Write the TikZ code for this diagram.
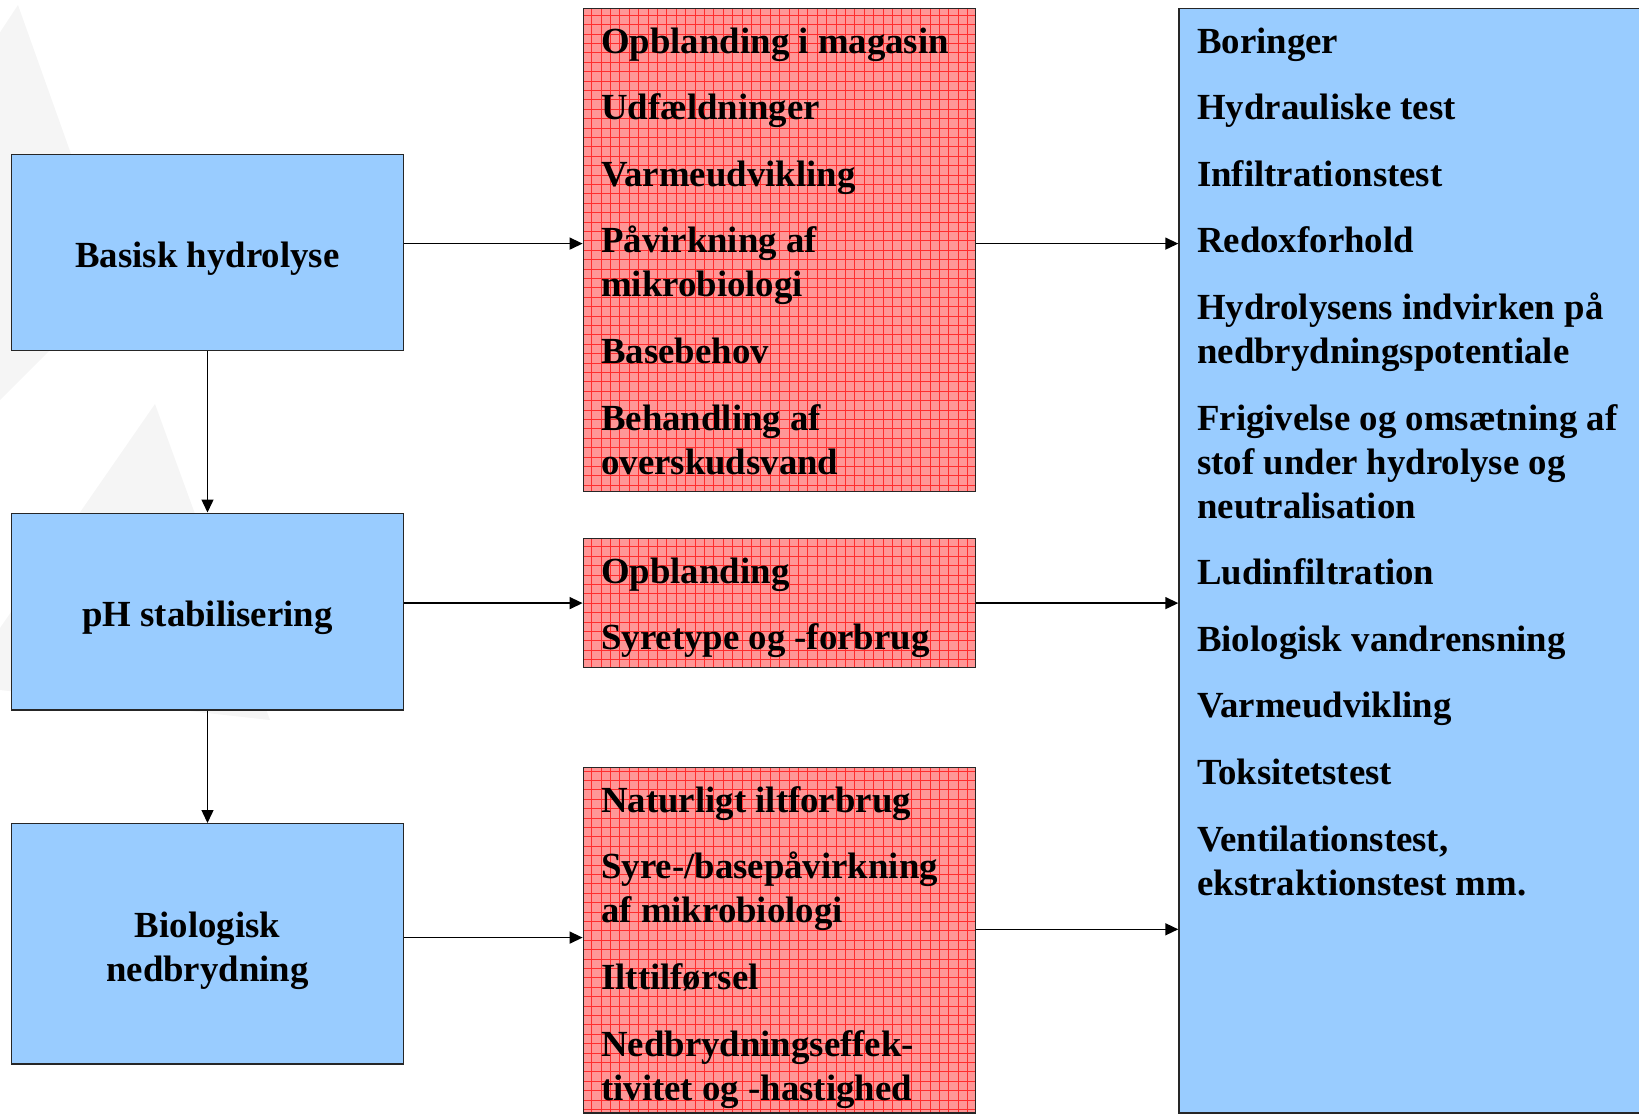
\documentclass[tikz,border=0pt]{standalone}
\usepackage{fontspec}
\setmainfont{Liberation Serif}
\usetikzlibrary{arrows.meta}
\definecolor{boxblue}{HTML}{99CCFF}
\definecolor{boxpink}{RGB}{255,150,150}
\definecolor{gridred}{RGB}{255,45,45}
\definecolor{wm}{gray}{0.96}
\begin{document}
\begin{tikzpicture}[x=1pt,y=-1pt,
  bluebox/.style={draw=black!85, line width=1.4pt, fill=boxblue, inner sep=0pt, minimum width=392pt},
  lbl/.style={font=\fontsize{36.8}{44}\selectfont\bfseries, align=center, inner sep=0pt},
  redbox/.style={draw=black!85, line width=1.4pt, fill=boxpink, inner sep=0pt, minimum width=392pt,
    path picture={\draw[gridred, line width=0.35pt] (path picture bounding box.south west) grid[step=9.4pt] (path picture bounding box.north east);}},
  listbox/.style={draw=black!85, line width=1.4pt, fill=boxblue, inner sep=0pt},
  item/.style={font=\fontsize{36.8}{44}\selectfont\bfseries, anchor=base west, inner sep=0pt},
  arr/.style={line width=1.4pt, -{Triangle[length=13pt,width=12pt]}}]
\clip (0,0) rectangle (1639,1114);
% faint background shapes
\fill[wm] (18,5) -- (117,283) -- (0,400) -- (-5,400) -- (-5,40) -- cycle;
\fill[wm] (155,404) -- (270,720) -- (0,690) -- (0,628) -- cycle;
% left column
\node[bluebox, minimum height=195.5pt] (b1) at (207.5,252.45) {};
\node[bluebox, minimum height=196.6pt] (b2) at (207.5,611.5) {};
\node[bluebox, minimum height=240.4pt] (b3) at (207.5,943.9) {};
\node[lbl] (b1t) at ([yshift=-6pt]b1.center) {Basisk hydrolyse};
\node[lbl] (b2t) at ([yshift=-6pt]b2.center) {pH stabilisering};
\node[lbl] (b3t) at ([yshift=-7pt]b3.center) {Biologisk\\nedbrydning};
% middle column
\node[redbox, minimum height=483.1pt] (r1) at (779.3,249.95) {};
\node[redbox, minimum height=129.2pt] (r2) at (779.3,602.9) {};
\node[redbox, minimum height=345.5pt] (r3) at (779.3,940.05) {};
% right column
\node[listbox, minimum width=481pt, minimum height=1104.4pt] (R) at (1419.5,560.6) {};
% texts in middle boxes
\foreach \nm/\yy/\tx in {
  m1/53/{Opblanding i magasin},
  m2/119.6/{Udfældninger},
  m3/186.2/{Varmeudvikling},
  m4/252.8/{Påvirkning af},
  m4b/296.8/{mikrobiologi},
  m5/363.4/{Basebehov},
  m6/430/{Behandling af},
  m6b/474/{overskudsvand},
  n1/583.3/{Opblanding},
  n2/649.9/{Syretype og -forbrug},
  p1/812.3/{Naturligt iltforbrug},
  p2/878.9/{Syre-/basepåvirkning},
  p2b/922.9/{af mikrobiologi},
  p3/989.5/{Ilttilførsel},
  p4/1056.1/{Nedbrydningseffek-},
  p4b/1100.1/{tivitet og -hastighed}}
  \node[item] (\nm) at (601,\yy) {\tx};
% texts in right box
\foreach \nm/\yy/\tx in {
  q1/53/{Boringer},
  q2/119.6/{Hydrauliske test},
  q3/186.2/{Infiltrationstest},
  q4/252.8/{Redoxforhold},
  q5/319.4/{Hydrolysens indvirken på},
  q5b/363.4/{nedbrydningspotentiale},
  q6/430/{Frigivelse og omsætning af},
  q6b/474/{stof under hydrolyse og},
  q6c/518/{neutralisation},
  q7/584.6/{Ludinfiltration},
  q8/651.2/{Biologisk vandrensning},
  q9/717.8/{Varmeudvikling},
  q10/784.4/{Toksitetstest},
  q11/851/{Ventilationstest,},
  q11b/895/{ekstraktionstest mm.}}
  \node[item] (\nm) at (1197,\yy) {\tx};
% connectors
\coordinate (ya) at (0,243.6);
\coordinate (yb) at (0,603.1);
\coordinate (yc) at (0,937.6);
\coordinate (yd) at (0,929.3);
\draw[arr] (b1) -- (b2);
\draw[arr] (b2) -- (b3);
\draw[arr] (b1.east |- ya) -- (r1.west |- ya);
\draw[arr] (b2.east |- yb) -- (r2.west |- yb);
\draw[arr] (b3.east |- yc) -- (r3.west |- yc);
\draw[arr] (r1.east |- ya) -- (R.west |- ya);
\draw[arr] (r2.east |- yb) -- (R.west |- yb);
\draw[arr] (r3.east |- yd) -- (R.west |- yd);
\end{tikzpicture}
\end{document}
